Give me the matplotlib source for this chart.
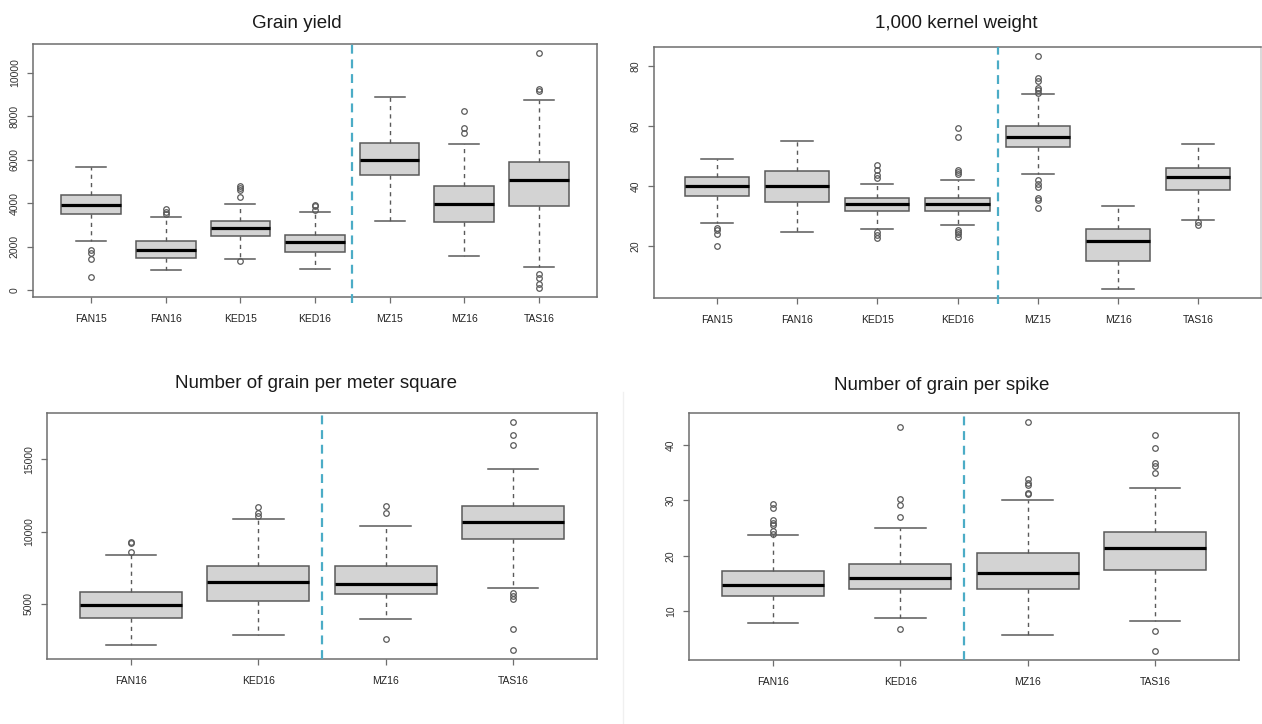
import matplotlib
matplotlib.use("Agg")
import matplotlib.pyplot as plt

plt.rcParams['font.family'] = ['Liberation Sans', 'DejaVu Sans']

W, H = 1262, 724

# ---- Grain yield ----
gy_labels = ["FAN15", "FAN16", "KED15", "KED16", "MZ15", "MZ16", "TAS16"]
gy_q1 = [3500, 1500, 2480, 1760, 5310, 3160, 3890]
gy_med = [3900, 1850, 2870, 2210, 5990, 3970, 5050]
gy_q3 = [4370, 2270, 3180, 2520, 6790, 4800, 5880]
gy_lo = [2270, 940, 1440, 1000, 3180, 1570, 1050]
gy_hi = [5680, 3360, 3980, 3610, 8890, 6710, 8750]
gy_out = [[1870, 1700, 1440, 590],
          [3750, 3600, 3490],
          [4800, 4710, 4630, 4290, 1330],
          [3940, 3860, 3700],
          [],
          [8240, 7450, 7220],
          [10900, 9260, 9180, 740, 560, 280, 120]]
gy_ticks = [0, 2000, 4000, 6000, 8000, 10000]

# ---- 1,000 kernel weight ----
tkw_labels = ["FAN15", "FAN16", "KED15", "KED16", "MZ15", "MZ16", "TAS16"]
tkw_q1 = [36.9, 34.9, 31.8, 31.8, 53.0, 15.1, 38.9]
tkw_med = [40.1, 40.1, 34.1, 34.2, 56.3, 21.7, 43.0]
tkw_q3 = [43.0, 45.0, 36.2, 36.1, 60.2, 25.8, 46.0]
tkw_lo = [27.9, 24.9, 25.8, 27.2, 44.0, 5.8, 28.6]
tkw_hi = [49.1, 55.1, 40.9, 42.2, 70.7, 33.3, 54.0]
tkw_out = [[26.1, 25.3, 24.1, 19.9],
           [],
           [47.0, 45.4, 43.9, 42.9, 24.7, 23.8, 22.8],
           [59.6, 56.5, 45.4, 44.7, 44.0, 25.5, 24.7, 23.9, 23.0],
           [83.4, 76.1, 75.3, 72.7, 72.2, 71.3, 42.2, 40.9, 39.6, 36.2, 35.3, 32.8],
           [],
           [28.0, 27.2]]
tkw_ticks = [20, 40, 60, 80]

# ---- Number of grain per meter square ----
gm_labels = ["FAN16", "KED16", "MZ16", "TAS16"]
gm_q1 = [4050, 5230, 5650, 9490]
gm_med = [4930, 6500, 6370, 10670]
gm_q3 = [5790, 7590, 7620, 11780]
gm_lo = [2150, 2870, 3960, 6090]
gm_hi = [8380, 10850, 10370, 14350]
gm_out = [[9280, 9210, 8560],
          [11680, 11270, 11100],
          [11760, 11270, 2550],
          [17590, 16670, 16000, 5740, 5560, 5370, 3240, 1810]]
gm_ticks = [5000, 10000, 15000]

# ---- Number of grain per spike ----
gs_labels = ["FAN16", "KED16", "MZ16", "TAS16"]
gs_q1 = [12.8, 14.0, 14.0, 17.55]
gs_med = [14.8, 16.0, 17.0, 21.4]
gs_q3 = [17.2, 18.5, 20.6, 24.4]
gs_lo = [8.0, 8.9, 5.8, 8.2]
gs_hi = [23.7, 25.1, 30.1, 32.2]
gs_out = [[29.35, 28.6, 26.4, 25.9, 25.5, 24.5, 24.0],
          [43.2, 30.3, 29.2, 27.1, 6.85],
          [44.1, 33.8, 33.2, 32.7, 31.3, 31.1],
          [41.75, 39.5, 36.8, 36.2, 34.9, 6.4, 2.9]]
gs_ticks = [10, 20, 30, 40]

fig = plt.figure(figsize=(W / 100, H / 100), dpi=100)
fig.patch.set_facecolor("white")

BOX_EDGE = "#5a5a5a"
AX_EDGE = "#6e6e6e"
SEP_BLUE = "#4bacc6"


def px_axes(left, top, right, bottom):
    return fig.add_axes([left / W, 1 - bottom / H, (right - left) / W, (bottom - top) / H])


def panel(ax, labels, q1, med, q3, lo, hi, out, ticks, split, sep_below=0.0):
    stats = []
    for i, lab in enumerate(labels):
        stats.append(dict(label=lab, q1=q1[i], med=med[i], q3=q3[i],
                          whislo=lo[i], whishi=hi[i], fliers=out[i]))
    n = len(labels)
    pos = list(range(1, n + 1))
    ax.bxp(stats, positions=pos, widths=0.8, patch_artist=True,
           showfliers=True,
           boxprops=dict(facecolor="#d3d3d3", edgecolor=BOX_EDGE, linewidth=1.1),
           medianprops=dict(color="black", linewidth=2.3, solid_capstyle="butt"),
           whiskerprops=dict(color=BOX_EDGE, linewidth=1.0, linestyle=(0, (3, 3))),
           capprops=dict(color=BOX_EDGE, linewidth=1.1),
           flierprops=dict(marker="o", markersize=4, markerfacecolor="none",
                           markeredgecolor=BOX_EDGE, markeredgewidth=0.9,
                           linestyle="none"),
           capwidths=0.4)
    # R-style limits: 4% padding on both axes
    x0, x1 = 0.5, n + 0.5
    dx = (x1 - x0) * 0.04
    ax.set_xlim(x0 - dx, x1 + dx)
    vals = lo + hi + [v for o in out for v in o]
    y0, y1 = min(vals), max(vals)
    dy = (y1 - y0) * 0.04
    ax.set_ylim(y0 - dy, y1 + dy)
    ax.set_yticks(ticks)
    ax.set_yticklabels([str(t) for t in ticks], rotation=90, va="center",
                       fontsize=7.5, color="#333333")
    ax.set_xticks(pos)
    ax.set_xticklabels(labels, fontsize=7.5, color="#222222")
    ax.tick_params(axis="both", length=4.5, width=0.9, color=AX_EDGE)
    ax.tick_params(axis="y", pad=5)
    ax.tick_params(axis="x", pad=8)
    for sp in ax.spines.values():
        sp.set_color(AX_EDGE)
        sp.set_linewidth(1.1)
    ax.axvline(split, ymin=-sep_below, ymax=1.0, color=SEP_BLUE, linewidth=1.6,
               linestyle=(0, (4, 2.6)), clip_on=False, zorder=5)


ax1 = px_axes(33, 44, 597, 297)
panel(ax1, gy_labels, gy_q1, gy_med, gy_q3, gy_lo, gy_hi, gy_out, gy_ticks, 4.5, 0.025)

ax2 = px_axes(654, 47, 1261, 298)
panel(ax2, tkw_labels, tkw_q1, tkw_med, tkw_q3, tkw_lo, tkw_hi, tkw_out, tkw_ticks, 4.5, 0.025)
ax2.spines["right"].set_color("#cfcfcf")

ax3 = px_axes(47, 413, 597, 659)
panel(ax3, gm_labels, gm_q1, gm_med, gm_q3, gm_lo, gm_hi, gm_out, gm_ticks, 2.5)

ax4 = px_axes(689, 413, 1239, 660)
panel(ax4, gs_labels, gs_q1, gs_med, gs_q3, gs_lo, gs_hi, gs_out, gs_ticks, 2.5)

# faint divider between the lower panels
fig.add_artist(plt.Line2D([623 / W, 623 / W], [0, 1 - 392 / H], color="#f0f0f0",
                          linewidth=1.0, transform=fig.transFigure))

title_kw = dict(fontsize=13.5, color="#1a1a1a", ha="center", va="center")
fig.text(297 / W, 1 - 23 / H, "Grain yield", **title_kw)
fig.text(956 / W, 1 - 23 / H, "1,000 kernel weight", **title_kw)
fig.text(316 / W, 1 - 383 / H, "Number of grain per meter square", **title_kw)
fig.text(942 / W, 1 - 386 / H, "Number of grain per spike", **title_kw)

fig.savefig("out.png", dpi=100, facecolor="white")
